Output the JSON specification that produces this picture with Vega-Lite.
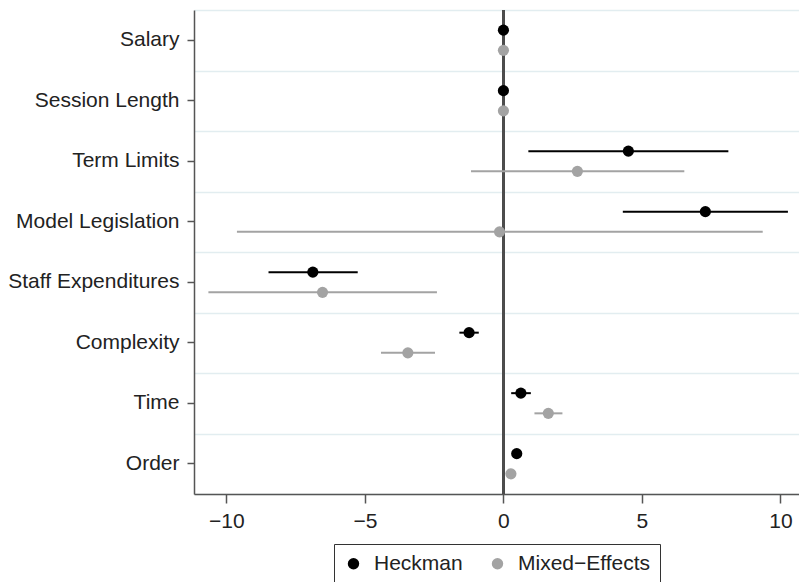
{
  "$schema": "https://vega.github.io/schema/vega-lite/v6.json",
  "width": 605,
  "height": 484,
  "autosize": {"type": "none"},
  "padding": {"left": 194, "top": 10, "right": 0, "bottom": 88},
  "config": {
    "view": {"stroke": null},
    "font": "Liberation Sans",
    "axisX": {"domainColor": "#555555", "domainWidth": 1.5, "tickColor": "#555555", "tickWidth": 1.5, "tickSize": 9, "labelFontSize": 21, "labelColor": "#222222", "labelPadding": 7, "grid": false},
    "axisLeft": {"domainColor": "#555555", "domainWidth": 1.5, "tickColor": "#555555", "tickWidth": 1.5, "tickSize": 7, "labelFontSize": 21, "labelColor": "#222222", "labelPadding": 8, "grid": false},
    "legend": {"layout": {"bottom": {"anchor": "middle"}}}
  },
  "data": {
    "values": [
      {"term": "Salary", "model": "Heckman", "est": 0.0, "lo": -0.03, "hi": 0.03},
      {"term": "Salary", "model": "Mixed−Effects", "est": 0.0, "lo": -0.03, "hi": 0.03},
      {"term": "Session Length", "model": "Heckman", "est": 0.0, "lo": -0.03, "hi": 0.03},
      {"term": "Session Length", "model": "Mixed−Effects", "est": 0.0, "lo": -0.03, "hi": 0.03},
      {"term": "Term Limits", "model": "Heckman", "est": 4.51, "lo": 0.9, "hi": 8.12},
      {"term": "Term Limits", "model": "Mixed−Effects", "est": 2.67, "lo": -1.17, "hi": 6.53},
      {"term": "Model Legislation", "model": "Heckman", "est": 7.29, "lo": 4.31, "hi": 10.27},
      {"term": "Model Legislation", "model": "Mixed−Effects", "est": -0.14, "lo": -9.62, "hi": 9.36},
      {"term": "Staff Expenditures", "model": "Heckman", "est": -6.88, "lo": -8.48, "hi": -5.26},
      {"term": "Staff Expenditures", "model": "Mixed−Effects", "est": -6.53, "lo": -10.65, "hi": -2.4},
      {"term": "Complexity", "model": "Heckman", "est": -1.24, "lo": -1.59, "hi": -0.89},
      {"term": "Complexity", "model": "Mixed−Effects", "est": -3.45, "lo": -4.42, "hi": -2.47},
      {"term": "Time", "model": "Heckman", "est": 0.63, "lo": 0.28, "hi": 0.99},
      {"term": "Time", "model": "Mixed−Effects", "est": 1.62, "lo": 1.12, "hi": 2.13},
      {"term": "Order", "model": "Heckman", "est": 0.48, "lo": 0.45, "hi": 0.51},
      {"term": "Order", "model": "Mixed−Effects", "est": 0.27, "lo": 0.24, "hi": 0.3}
    ]
  },
  "resolve": {"axis": {"y": "independent"}},
  "layer": [
    {
      "mark": {"type": "rule", "color": "#4d4d4d", "strokeWidth": 2},
      "encoding": {
        "x": {"datum": 0, "type": "quantitative", "scale": {"domain": [-11.17, 10.67], "nice": false, "zero": false}, "axis": {"title": null, "values": [-10, -5, 0, 5, 10]}}
      }
    },
    {
      "mark": {"type": "rule", "strokeWidth": 2},
      "encoding": {
        "y": {"field": "term", "type": "nominal", "sort": ["Salary", "Session Length", "Term Limits", "Model Legislation", "Staff Expenditures", "Complexity", "Time", "Order"], "scale": {"paddingInner": 0, "paddingOuter": 0}, "axis": {"orient": "right", "grid": true, "gridColor": "#e2edf0", "gridWidth": 1.5, "tickBand": "extent", "labels": false, "ticks": false, "domain": false, "title": null}},
        "yOffset": {"field": "model", "type": "nominal", "scale": {"paddingInner": 0, "paddingOuter": 0.5}},
        "x": {"field": "lo", "type": "quantitative", "axis": {"title": null, "values": [-10, -5, 0, 5, 10]}},
        "x2": {"field": "hi"},
        "color": {"field": "model", "type": "nominal"}
      }
    },
    {
      "mark": {"type": "circle", "opacity": 1, "size": 125},
      "encoding": {
        "y": {"field": "term", "type": "nominal", "sort": ["Salary", "Session Length", "Term Limits", "Model Legislation", "Staff Expenditures", "Complexity", "Time", "Order"], "axis": {"orient": "left", "title": null}},
        "yOffset": {"field": "model", "type": "nominal"},
        "x": {"field": "est", "type": "quantitative", "axis": {"title": null, "values": [-10, -5, 0, 5, 10]}},
        "color": {"field": "model", "type": "nominal", "scale": {"domain": ["Heckman", "Mixed−Effects"], "range": ["#000000", "#a3a3a3"]}, "legend": {"orient": "bottom", "direction": "horizontal", "title": null, "symbolType": "circle", "symbolSize": 130, "symbolStrokeWidth": 0, "labelFontSize": 21, "labelColor": "#222222", "strokeColor": "#333333", "fillColor": "#ffffff", "padding": 9, "columnPadding": 24, "labelOffset": 10, "offset": 13}}
      }
    }
  ]
}
